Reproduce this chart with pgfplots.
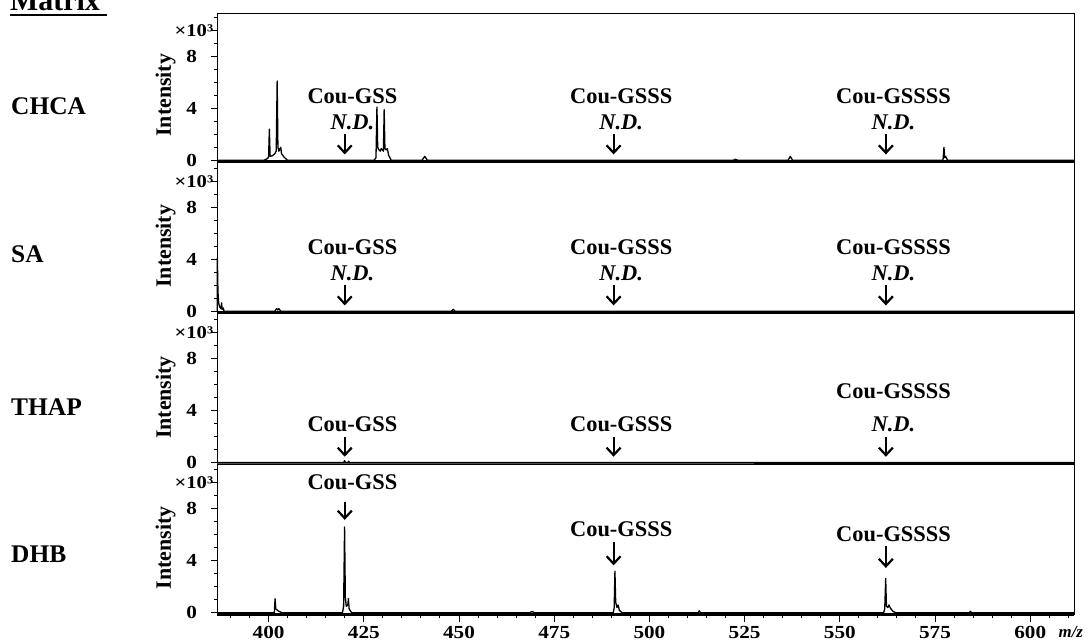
\documentclass[border=0pt]{standalone}
\usepackage{fontspec}
\setmainfont{Liberation Serif}
\newfontfamily\numfont[FakeStretch=1.15]{Liberation Serif}
\usepackage{pgfplots}
\pgfplotsset{compat=1.18}
\usetikzlibrary{arrows.meta}

\pgfplotsset{
  panel/.style={
    x=3.808bp, y=13bp, xmin=386.45, xmax=611.55, ymin=-0.17,
    anchor=south west, clip=false,
    axis line style={line width=1bp},
    every tick/.style={black, line width=1bp},
    tick align=outside, ytick pos=left,
    ytick={0,4,8,10}, yticklabels={0,4,8,{}},
    minor ytick={1,2,3,5,6,7,9,11},
    major tick length=6.5bp, minor tick length=3.3bp,
    xtick=\empty,
    tick label style={font=\numfont\bfseries\fontsize{18.5}{18.5}\selectfont},
    yticklabel style={xshift=-10bp},
    xticklabel style={yshift=-1bp},
  },
  spec/.style={black, line width=1.3bp, line join=round},
  base/.style={black, line width=3bp},
}
\tikzset{
  lab/.style={font=\bfseries\fontsize{22.5}{22.5}\selectfont, inner sep=0pt},
  nd/.style={font=\bfseries\itshape\fontsize{22.5}{22.5}\selectfont, inner sep=0pt},
  arr/.style={line width=2.2bp, -{Straight Barb[length=7.5bp,width=14bp,line width=2.2bp]}},
  ylab/.style={font=\bfseries\fontsize{22}{22}\selectfont, rotate=90, inner sep=0pt},
  mult/.style={font=\numfont\bfseries\fontsize{18}{18}\selectfont, anchor=east, inner sep=0pt},
  mat/.style={font=\bfseries\fontsize{25.5}{25.5}\selectfont, anchor=west, inner sep=0pt},
}

\begin{document}
\begin{tikzpicture}
\path[use as bounding box] (0,0) rectangle (1089bp,643bp);

% Matrix header (cut at the top as in the reference)
\node[font=\bfseries\fontsize{30}{30}\selectfont, anchor=base west, inner sep=0pt] at (10bp,632bp) {Matrix};
\draw[line width=2bp] (10bp,628bp) -- (107bp,628bp);

\node[mat] at (11bp,536.5bp) {CHCA};
\node[mat] at (11bp,389bp) {SA};
\node[mat] at (11bp,236bp) {THAP};
\node[mat] at (11bp,88.3bp) {DHB};

% ---------------- CHCA ----------------
\begin{axis}[panel, at={(217bp,480.5bp)}, ymax=11.29]
\addplot[base] coordinates {(386.45,-0.1) (611.55,-0.1)};
\addplot[spec] coordinates {
(386.45,0) (398.8,0) (399.8,0.15) (400.0,0.3) (400.2,2.4) (400.4,0.3) (401.0,0.35) (401.6,0.5)
(402.0,0.7) (402.25,6.1) (402.45,1.0) (402.7,0.7) (403.0,0.9) (403.2,1.0) (403.4,0.5) (404.2,0.2) (405.0,0)
(427.7,0) (428.2,0.2) (428.45,4.1) (428.65,1.0) (429.0,0.8) (429.3,0.7) (429.6,0.9) (430.15,0.7)
(430.35,3.9) (430.55,0.9) (430.9,0.8) (431.2,0.9) (431.5,0.4) (432.2,0)
(440.3,0) (441.0,0.3) (441.7,0)
(522.0,0) (522.6,0.08) (523.2,0)
(536.4,0) (537.0,0.3) (537.6,0)
(577.1,0) (577.35,1.0) (577.55,0.2) (577.8,0.3) (578.3,0) (611.55,0)};
\node[ylab] at (axis cs:372.99,5) {Intensity};
\node[mult] at (axis cs:385.5,10) {×10³};
\node[lab] at (axis cs:422,4.92) {Cou-GSS};
\node[nd]  at (axis cs:422,2.92) {N.D.};
\draw[arr] (axis cs:420,2.05) -- (axis cs:420,0.45);
\node[lab] at (axis cs:492.6,4.92) {Cou-GSSS};
\node[nd]  at (axis cs:492.6,2.92) {N.D.};
\draw[arr] (axis cs:490.6,2.05) -- (axis cs:490.6,0.45);
\node[lab] at (axis cs:564.1,4.92) {Cou-GSSSS};
\node[nd]  at (axis cs:564.1,2.92) {N.D.};
\draw[arr] (axis cs:562.1,2.05) -- (axis cs:562.1,0.45);
\end{axis}

% ---------------- SA ----------------
\begin{axis}[panel, at={(217bp,329.5bp)}, ymax=11.45]
\addplot[base] coordinates {(386.45,-0.1) (611.55,-0.1)};
\addplot[spec] coordinates {
(386.5,0) (386.55,4.1) (386.7,1.5) (386.9,0.6) (387.2,0.3) (387.5,0.2) (387.65,0.65) (387.8,0.15)
(388.1,0.25) (388.3,0)
(401.6,0) (402.1,0.2) (402.4,0.1) (402.7,0.2) (403.2,0)
(448.0,0) (448.5,0.15) (449.0,0) (611.55,0)};
\node[ylab] at (axis cs:372.99,5) {Intensity};
\node[mult] at (axis cs:385.5,10) {×10³};
\node[lab] at (axis cs:422,4.95) {Cou-GSS};
\node[nd]  at (axis cs:422,2.95) {N.D.};
\draw[arr] (axis cs:420,2.05) -- (axis cs:420,0.45);
\node[lab] at (axis cs:492.6,4.95) {Cou-GSSS};
\node[nd]  at (axis cs:492.6,2.95) {N.D.};
\draw[arr] (axis cs:490.6,2.05) -- (axis cs:490.6,0.45);
\node[lab] at (axis cs:564.1,4.95) {Cou-GSSSS};
\node[nd]  at (axis cs:564.1,2.95) {N.D.};
\draw[arr] (axis cs:562.1,2.05) -- (axis cs:562.1,0.45);
\end{axis}

% ---------------- THAP ----------------
\begin{axis}[panel, at={(217bp,178.2bp)}, ymax=11.47]
\addplot[base, black!65] coordinates {(386.45,-0.1) (527.5,-0.1)};
\addplot[base] coordinates {(527.5,-0.1) (611.55,-0.1)};
\addplot[spec] coordinates {
(386.45,0) (419.7,0) (419.95,0.15) (420.2,0) (420.8,0) (421.0,0.1) (421.3,0) (611.55,0)};
\node[ylab] at (axis cs:372.99,5) {Intensity};
\node[mult] at (axis cs:385.5,10) {×10³};
\node[lab] at (axis cs:422,2.95) {Cou-GSS};
\draw[arr] (axis cs:420,2.0) -- (axis cs:420,0.45);
\node[lab] at (axis cs:492.6,2.95) {Cou-GSSS};
\draw[arr] (axis cs:490.6,2.0) -- (axis cs:490.6,0.45);
\node[lab] at (axis cs:564.1,5.5) {Cou-GSSSS};
\node[nd]  at (axis cs:564.1,2.95) {N.D.};
\draw[arr] (axis cs:562.1,2.0) -- (axis cs:562.1,0.45);
\end{axis}

% ---------------- DHB ----------------
\begin{axis}[panel, at={(217bp,28bp)}, ymax=11.38,
  xtick={400,425,...,600}, xticklabels={400,425,450,475,500,525,550,575,600},
  minor xtick={390,395,...,610}, xtick pos=bottom]
\addplot[base] coordinates {(386.45,-0.1) (611.55,-0.1)};
\addplot[spec] coordinates {
(386.45,0) (401.5,0) (401.7,1.08) (401.9,0.3) (402.5,0.15) (403.5,0)
(419.4,0) (419.7,0.5) (419.95,6.6) (420.15,1.2) (420.4,0.5) (420.8,0.6) (420.95,1.1) (421.15,0.3) (421.8,0)
(468.5,0) (469.2,0.1) (469.9,0)
(490.5,0) (490.75,0.4) (490.95,3.2) (491.15,0.8) (491.5,0.4) (491.8,0.6) (492.1,0.2) (492.8,0)
(512.8,0) (513.1,0.15) (513.4,0)
(561.5,0) (561.8,0.3) (562.05,2.64) (562.25,0.5) (562.6,0.4) (562.9,0.6) (563.3,0.35) (564.0,0.1) (564.8,0)
(584.0,0) (584.3,0.12) (584.6,0) (611.55,0)};
\node[ylab] at (axis cs:372.99,5) {Intensity};
\node[mult] at (axis cs:385.5,10) {×10³};
\node[lab] at (axis cs:422,10.06) {Cou-GSS};
\draw[arr] (axis cs:420,8.55) -- (axis cs:420,7.15);
\node[lab] at (axis cs:492.6,6.45) {Cou-GSSS};
\draw[arr] (axis cs:490.6,5.45) -- (axis cs:490.6,3.65);
\node[lab] at (axis cs:564.1,6.06) {Cou-GSSSS};
\draw[arr] (axis cs:562.1,5.15) -- (axis cs:562.1,3.45);
\node[font=\bfseries\itshape\fontsize{17}{17}\selectfont, anchor=west, inner sep=0pt] at (axis cs:607.4,-1.44) {m/z};
\end{axis}
\end{tikzpicture}
\end{document}
